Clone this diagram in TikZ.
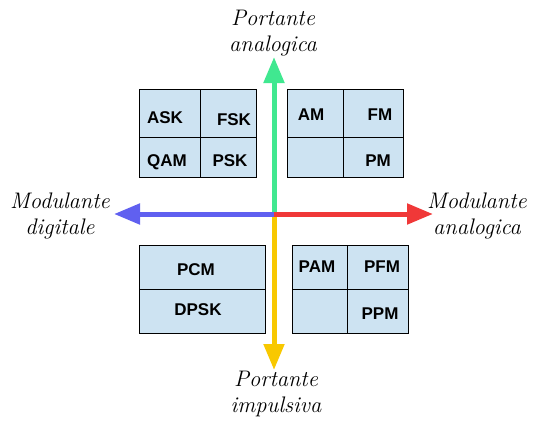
\documentclass[tikz,border=0pt]{standalone}
\usepackage{fontspec}
\newfontfamily\boxfont{Liberation Sans}
\usetikzlibrary{arrows.meta}

\definecolor{cellblue}{RGB}{205,227,242}
\definecolor{axgreen}{RGB}{64,232,144}
\definecolor{axblue}{RGB}{96,96,240}
\definecolor{axred}{RGB}{240,56,56}
\definecolor{axyellow}{RGB}{248,200,0}

\begin{document}
\begin{tikzpicture}[x=1pt, y=-1pt, >={Triangle[length=26pt, width=20pt]},
        axis/.style={line width=5pt, ->},
        cell/.style={draw, fill=cellblue, line width=0.8pt},
        tag/.style={font=\boxfont\bfseries\fontsize{17}{20}\selectfont, inner sep=0pt},
        axlabel/.style={font=\itshape\fontsize{22.5}{26}\selectfont, align=center, inner sep=0pt}]
        \useasboundingbox (0,0) rectangle (549,434);

%       boxes
        \draw [cell] (139,89) rectangle (256,177);
        \draw (200,89) -- (200,177);
        \draw (139,137) -- (256,137);

        \draw [cell] (287,89) rectangle (403,177);
        \draw (343,89) -- (343,177);
        \draw (287,137) -- (403,137);

        \draw [cell] (139,245) rectangle (265,333);
        \draw (139,289) -- (265,289);

        \draw [cell] (292,245) rectangle (408,333);
        \draw (347,245) -- (347,333);
        \draw (292,289) -- (408,289);

        \foreach \name/\x/\y in
        {
            ASK/165/118,
            FSK/234/120,
            QAM/167/162,
            PSK/230/161,
            AM/311/115,
            FM/380/115,
            PM/378/161,
            PCM/196/270,
            DPSK/198/310,
            PAM/317/267,
            PFM/382/267,
            PPM/380/314
        }
        {
            \node [tag] (\name) at (\x, \y) {\name};
        }

%       axes
        \coordinate (o) at (274, 214);
        \coordinate (ptop) at (274, 57);
        \coordinate (pbot) at (274, 370);
        \coordinate (mleft) at (114, 214);
        \coordinate (mright) at (433, 214);

        \draw [axis, axgreen] (o) -- (ptop);
        \draw [axis, axyellow] (o) -- (pbot);
        \draw [axis, axblue] (o) -- (mleft);
        \draw [axis, axred] (o) -- (mright);

        \node [axlabel] (analog) at (273, 33) {Portante\\analogica};
        \node [axlabel] (impuls) at (276, 394) {Portante\\impulsiva};
        \node [axlabel] (digit) at (60, 216) {Modulante\\digitale};
        \node [axlabel] (analogmod) at (477, 216) {Modulante\\analogica};
\end{tikzpicture}
\end{document}
